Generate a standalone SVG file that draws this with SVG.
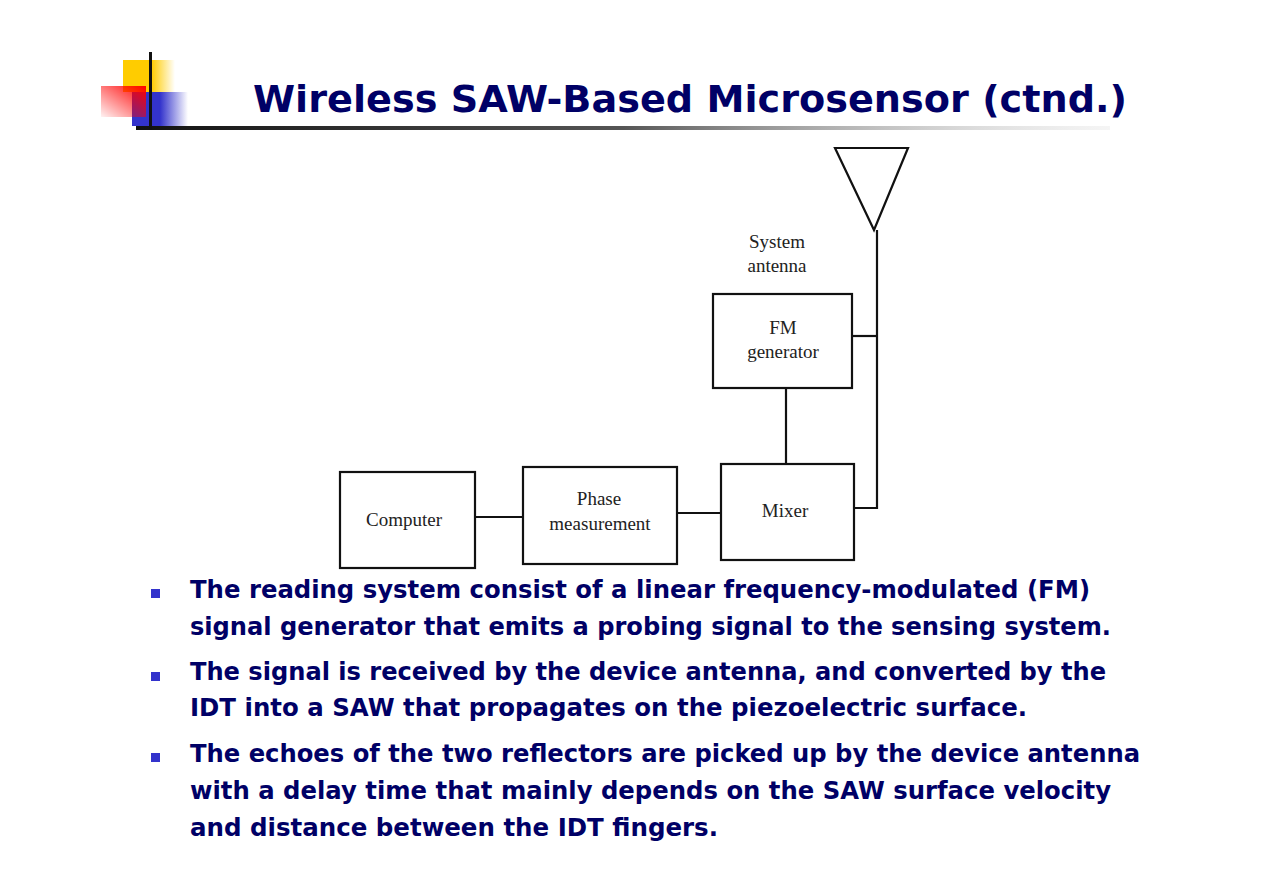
<svg xmlns="http://www.w3.org/2000/svg" width="1263" height="893" viewBox="0 0 1263 893">
<defs>
<linearGradient id="gy" x1="0" y1="0" x2="1" y2="0"><stop offset="0" stop-color="#ffcc00"/><stop offset="0.55" stop-color="#ffcc00"/><stop offset="1" stop-color="#ffcc00" stop-opacity="0"/></linearGradient>
<linearGradient id="gr" x1="1" y1="0" x2="0" y2="1"><stop offset="0" stop-color="#ff0000"/><stop offset="1" stop-color="#ff0000" stop-opacity="0.05"/></linearGradient>
<linearGradient id="gb" x1="0" y1="0" x2="1" y2="0"><stop offset="0" stop-color="#3333cc"/><stop offset="0.5" stop-color="#3333cc"/><stop offset="1" stop-color="#3333cc" stop-opacity="0"/></linearGradient>
<linearGradient id="gl" x1="0" y1="0" x2="1" y2="0"><stop offset="0" stop-color="#111"/><stop offset="0.5" stop-color="#555"/><stop offset="1" stop-color="#ddd" stop-opacity="0.3"/></linearGradient>
</defs>
<style>
.box{fill:#fff;stroke:#111;stroke-width:2.2}
.ln{fill:none;stroke:#111;stroke-width:2.2}
.lb{font-family:"Liberation Serif","Times New Roman",serif;font-size:19px;fill:#222;text-anchor:middle}
.tt{font-family:"DejaVu Sans",Verdana,sans-serif;font-weight:bold;fill:#000066}
.bt{font-family:"DejaVu Sans",Verdana,sans-serif;font-weight:bold;font-size:24px;fill:#000066}
.bl{fill:#3333cc}
</style>
<rect width="1263" height="893" fill="#fff"/>
<g id="logo">
<rect x="123" y="60" width="52" height="32" fill="url(#gy)"/>
<rect x="132" y="92" width="56" height="34" fill="url(#gb)"/>
<rect x="101" y="86" width="45" height="31" fill="url(#gr)"/>
<rect x="136" y="126" width="974" height="4" fill="url(#gl)"/>
<rect x="149" y="52" width="3" height="78" fill="#111"/>
</g>
<text id="title" class="tt" x="253" y="112" font-size="38" textLength="874" lengthAdjust="spacingAndGlyphs">Wireless SAW-Based Microsensor (ctnd.)</text>
<g id="connectors">
<polyline class="ln" points="853,508 877,508 877,230"/>
<line class="ln" x1="852" y1="336" x2="877" y2="336"/>
<line class="ln" x1="786" y1="388" x2="786" y2="464"/>
<line class="ln" x1="475" y1="517" x2="523" y2="517"/>
<line class="ln" x1="677" y1="513" x2="721" y2="513"/>
</g>
<g id="antenna">
<polygon class="ln" points="835,148 908,148 874,230"/>
<text class="lb" x="777" y="248">System</text>
<text class="lb" x="777" y="272">antenna</text>
</g>
<g id="fm">
<rect class="box" x="713" y="294" width="139" height="94"/>
<text class="lb" x="783" y="334">FM</text>
<text class="lb" x="783" y="358">generator</text>
</g>
<g id="mixer">
<rect class="box" x="721" y="464" width="133" height="96"/>
<text class="lb" x="785" y="517">Mixer</text>
</g>
<g id="phase">
<rect class="box" x="523" y="467" width="154" height="97"/>
<text class="lb" x="599" y="505">Phase</text>
<text class="lb" x="600" y="530">measurement</text>
</g>
<g id="computer">
<rect class="box" x="340" y="472" width="135" height="96"/>
<text class="lb" x="404" y="526">Computer</text>
</g>
<g id="bullets">
<rect class="bl" x="151" y="589" width="9" height="9"/>
<rect class="bl" x="151" y="672" width="9" height="9"/>
<rect class="bl" x="151" y="753" width="9" height="9"/>
<text class="bt" x="190" y="598" textLength="900" lengthAdjust="spacingAndGlyphs">The reading system consist of a linear frequency-modulated (FM)</text>
<text class="bt" x="190" y="635" textLength="921" lengthAdjust="spacingAndGlyphs">signal generator that emits a probing signal to the sensing system.</text>
<text class="bt" x="190" y="680" textLength="916" lengthAdjust="spacingAndGlyphs">The signal is received by the device antenna, and converted by the</text>
<text class="bt" x="190" y="716" textLength="837" lengthAdjust="spacingAndGlyphs">IDT into a SAW that propagates on the piezoelectric surface.</text>
<text class="bt" x="190" y="762" textLength="950" lengthAdjust="spacingAndGlyphs">The echoes of the two reflectors are picked up by the device antenna</text>
<text class="bt" x="190" y="799" textLength="921" lengthAdjust="spacingAndGlyphs">with a delay time that mainly depends on the SAW surface velocity</text>
<text class="bt" x="190" y="836" textLength="528" lengthAdjust="spacingAndGlyphs">and distance between the IDT fingers.</text>
</g>
</svg>
